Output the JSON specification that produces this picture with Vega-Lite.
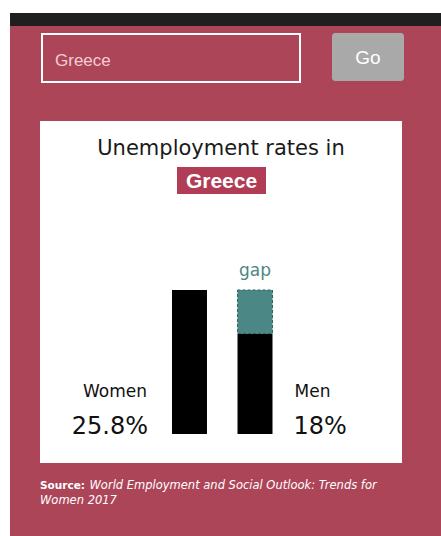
{
  "$schema": "https://vega.github.io/schema/vega-lite/v6.json",
  "background": "#ad4559",
  "padding": 0,
  "spacing": 0,
  "config": {"view": {"stroke": null}, "text": {"font": "DejaVu Sans"}},
  "hconcat": [
    {"width": 10, "height": 536, "view": {"fill": "white"}, "data": {"values": [{}]}, "mark": {"type": "point", "size": 0, "opacity": 0}},
    {
      "spacing": 0,
      "vconcat": [
        {"width": 431, "height": 13, "view": {"fill": "white"}, "data": {"values": [{}]}, "mark": {"type": "point", "size": 0, "opacity": 0}},
        {"width": 431, "height": 13, "view": {"fill": "#1f1f1f"}, "data": {"values": [{}]}, "mark": {"type": "point", "size": 0, "opacity": 0}},
        {"width": 431, "height": 6, "data": {"values": [{}]}, "mark": {"type": "point", "size": 0, "opacity": 0}},
        {
          "spacing": 0,
          "hconcat": [
            {"width": 31, "height": 50, "data": {"values": [{}]}, "mark": {"type": "point", "size": 0, "opacity": 0}},
            {
              "spacing": 0,
              "vconcat": [
                {"width": 258, "height": 1, "data": {"values": [{}]}, "mark": {"type": "point", "size": 0, "opacity": 0}},
                {"width": 258, "height": 48, "view": {"stroke": "white", "strokeWidth": 2}, "data": {"values": [{}]},
                 "mark": {"type": "text", "text": "Greece", "font": "Liberation Sans", "fontSize": 17, "color": "#f4cdd6", "align": "left", "baseline": "alphabetic", "dx": -116, "dy": 8}}
              ]
            },
            {"width": 31, "height": 50, "data": {"values": [{}]}, "mark": {"type": "point", "size": 0, "opacity": 0}},
            {
              "spacing": 0,
              "vconcat": [
                {"width": 72, "height": 1, "data": {"values": [{}]}, "mark": {"type": "point", "size": 0, "opacity": 0}},
                {"width": 72, "height": 48, "view": {"fill": "#a9a9a9", "cornerRadius": 3}, "data": {"values": [{}]},
                 "mark": {"type": "text", "text": "Go", "font": "Liberation Sans", "fontSize": 19, "color": "white", "baseline": "alphabetic", "dy": 6.5}}
              ]
            }
          ]
        },
        {"width": 431, "height": 38, "data": {"values": [{}]}, "mark": {"type": "point", "size": 0, "opacity": 0}},
        {
          "spacing": 0,
          "hconcat": [
            {"width": 30, "height": 342, "data": {"values": [{}]}, "mark": {"type": "point", "size": 0, "opacity": 0}},
            {
              "spacing": 0,
              "vconcat": [
                {"width": 362, "height": 46, "view": {"fill": "white"}, "data": {"values": [{}]},
                 "mark": {"type": "text", "text": "Unemployment rates in", "fontSize": 21, "color": "#1a1a1a", "baseline": "alphabetic", "dy": 11}},
                {
                  "spacing": 0,
                  "hconcat": [
                    {"width": 137, "height": 27, "view": {"fill": "white"}, "data": {"values": [{}]}, "mark": {"type": "point", "size": 0, "opacity": 0}},
                    {"width": 89, "height": 27, "view": {"fill": "#b03c55"}, "data": {"values": [{}]},
                     "mark": {"type": "text", "text": "Greece", "font": "Liberation Sans", "fontWeight": "bold", "fontSize": 21, "color": "white", "baseline": "alphabetic", "dy": 7.5}},
                    {"width": 136, "height": 27, "view": {"fill": "white"}, "data": {"values": [{}]}, "mark": {"type": "point", "size": 0, "opacity": 0}}
                  ]
                },
                {
                  "width": 362,
                  "height": 269,
                  "view": {"fill": "white"},
                  "data": {"values": [
                    {"gender": "Women", "rate": 0.258},
                    {"gender": "Men", "rate": 0.18}
                  ]},
                  "layer": [
                    {
                      "mark": {"type": "bar", "color": "black"},
                      "encoding": {
                        "x": {"field": "gender", "type": "nominal", "sort": ["Women", "Men"], "axis": null,
                              "scale": {"type": "band", "range": [132, 232.5], "paddingInner": 0.466, "paddingOuter": 0}},
                        "y": {"field": "rate", "type": "quantitative", "axis": null,
                              "scale": {"domain": [-0.052, 0.43], "zero": false, "nice": false}},
                        "y2": {"datum": 0}
                      }
                    },
                    {
                      "transform": [
                        {"joinaggregate": [{"op": "max", "field": "rate", "as": "top"}]},
                        {"filter": "datum.gender === 'Men'"}
                      ],
                      "mark": {"type": "bar", "fill": "#4b8784", "stroke": "#2f6664", "strokeDash": [3, 2], "strokeWidth": 1},
                      "encoding": {
                        "x": {"field": "gender", "type": "nominal", "sort": ["Women", "Men"], "axis": null,
                              "scale": {"type": "band", "range": [132, 232.5], "paddingInner": 0.466, "paddingOuter": 0}},
                        "y": {"field": "top", "type": "quantitative", "axis": null},
                        "y2": {"field": "rate"}
                      }
                    },
                    {
                      "transform": [
                        {"joinaggregate": [{"op": "max", "field": "rate", "as": "top"}]},
                        {"filter": "datum.gender === 'Men'"}
                      ],
                      "mark": {"type": "text", "text": "gap", "fontSize": 17, "color": "#4b8784", "baseline": "alphabetic", "dy": -14},
                      "encoding": {
                        "x": {"field": "gender", "type": "nominal", "sort": ["Women", "Men"], "axis": null, "bandPosition": 0.5,
                              "scale": {"type": "band", "range": [132, 232.5], "paddingInner": 0.466, "paddingOuter": 0}},
                        "y": {"field": "top", "type": "quantitative", "axis": null}
                      }
                    },
                    {
                      "transform": [{"filter": "datum.gender === 'Women'"}],
                      "mark": {"type": "text", "text": "Women", "fontSize": 17, "color": "#111", "align": "right", "baseline": "alphabetic", "dx": -25, "dy": -36.5},
                      "encoding": {
                        "x": {"field": "gender", "type": "nominal", "sort": ["Women", "Men"], "axis": null, "bandPosition": 0,
                              "scale": {"type": "band", "range": [132, 232.5], "paddingInner": 0.466, "paddingOuter": 0}},
                        "y": {"datum": 0}
                      }
                    },
                    {
                      "transform": [{"filter": "datum.gender === 'Women'"}],
                      "mark": {"type": "text", "fontSize": 24, "color": "#111", "align": "right", "baseline": "alphabetic", "dx": -24},
                      "encoding": {
                        "x": {"field": "gender", "type": "nominal", "sort": ["Women", "Men"], "axis": null, "bandPosition": 0,
                              "scale": {"type": "band", "range": [132, 232.5], "paddingInner": 0.466, "paddingOuter": 0}},
                        "y": {"datum": 0},
                        "text": {"field": "rate", "type": "quantitative", "format": ".1~%"}
                      }
                    },
                    {
                      "transform": [{"filter": "datum.gender === 'Men'"}],
                      "mark": {"type": "text", "text": "Men", "fontSize": 17, "color": "#111", "align": "left", "baseline": "alphabetic", "dx": 22, "dy": -36.5},
                      "encoding": {
                        "x": {"field": "gender", "type": "nominal", "sort": ["Women", "Men"], "axis": null, "bandPosition": 1,
                              "scale": {"type": "band", "range": [132, 232.5], "paddingInner": 0.466, "paddingOuter": 0}},
                        "y": {"datum": 0}
                      }
                    },
                    {
                      "transform": [{"filter": "datum.gender === 'Men'"}],
                      "mark": {"type": "text", "fontSize": 24, "color": "#111", "align": "left", "baseline": "alphabetic", "dx": 21},
                      "encoding": {
                        "x": {"field": "gender", "type": "nominal", "sort": ["Women", "Men"], "axis": null, "bandPosition": 1,
                              "scale": {"type": "band", "range": [132, 232.5], "paddingInner": 0.466, "paddingOuter": 0}},
                        "y": {"datum": 0},
                        "text": {"field": "rate", "type": "quantitative", "format": ".1~%"}
                      }
                    }
                  ]
                }
              ]
            }
          ]
        },
        {
          "spacing": 0,
          "hconcat": [
            {"width": 30, "height": 74, "data": {"values": [{}]}, "mark": {"type": "point", "size": 0, "opacity": 0}},
            {
              "width": 401,
              "height": 74,
              "data": {"values": [{}]},
              "layer": [
                {"mark": {"type": "text", "text": "Source:", "font": "DejaVu Sans", "fontWeight": "bold", "fontSize": 10.5, "color": "white", "align": "left", "baseline": "alphabetic", "dx": -200.5, "dy": -11}},
                {"mark": {"type": "text", "text": "World Employment and Social Outlook: Trends for", "font": "DejaVu Sans", "fontStyle": "italic", "fontSize": 11.5, "color": "white", "align": "left", "baseline": "alphabetic", "dx": -151, "dy": -11}},
                {"mark": {"type": "text", "text": "Women 2017", "font": "DejaVu Sans", "fontStyle": "italic", "fontSize": 11.5, "color": "white", "align": "left", "baseline": "alphabetic", "dx": -200.5, "dy": 4}}
              ]
            }
          ]
        }
      ]
    }
  ]
}
